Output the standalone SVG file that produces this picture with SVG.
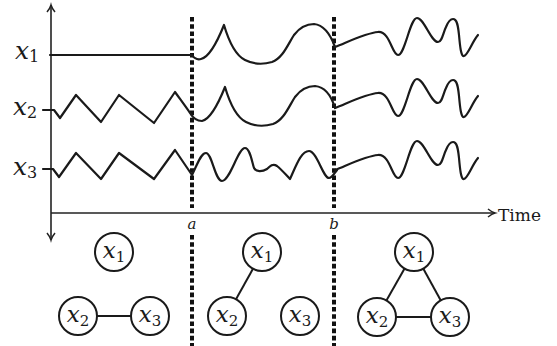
<svg xmlns="http://www.w3.org/2000/svg" width="557" height="346" viewBox="0 0 557 346">
<style>
.sig{fill:none;stroke:#1a1a1a;stroke-width:2.2;stroke-linejoin:round;stroke-linecap:round}
.ax{fill:none;stroke:#222;stroke-width:1.6}
.sep{fill:none;stroke:#111;stroke-width:4;stroke-dasharray:4.6 2.6}
.nd{fill:#fff;stroke:#1a1a1a;stroke-width:2}
.ed{stroke:#1a1a1a;stroke-width:2}
text{font-family:'DejaVu Serif','Liberation Serif',serif;fill:#1a1a1a}
.mx{font-style:italic;font-size:25px}
.sub{font-style:normal;font-size:16px}
.nx{font-style:italic;font-size:23px}
.nsub{font-style:normal;font-size:15px}
.ab{font-style:italic;font-size:15px}
.tm{font-size:17px}
</style>
<defs>
<marker id="arr" markerUnits="userSpaceOnUse" markerWidth="12" markerHeight="12" refX="9" refY="5" orient="auto-start-reverse" viewBox="0 0 12 10">
<path d="M2,1 Q6,4.2 9,5 Q6,5.8 2,9" fill="none" stroke="#222" stroke-width="1.5"/>
</marker>
</defs>

<g id="axes">
<line class="ax" x1="51" y1="240" x2="51" y2="5" marker-start="url(#arr)" marker-end="url(#arr)"/>
<line class="ax" x1="51" y1="213" x2="495" y2="213" marker-end="url(#arr)"/>
<text class="tm" x="498" y="221">Time</text>
</g>

<g id="separators">
<line class="sep" x1="192" y1="17" x2="192" y2="208"/>
<line class="sep" x1="192" y1="235" x2="192" y2="346"/>
<line class="sep" x1="334" y1="17" x2="334" y2="208"/>
<line class="sep" x1="334" y1="235" x2="334" y2="346"/>
<text class="ab" x="192" y="229" text-anchor="middle">a</text>
<text class="ab" x="334" y="229" text-anchor="middle">b</text>
</g>

<g id="signal-labels">
<text class="mx" x="15" y="59">x<tspan class="sub" dy="3">1</tspan></text>
<text class="mx" x="13" y="115">x<tspan class="sub" dy="3">2</tspan></text>
<text class="mx" x="13" y="175">x<tspan class="sub" dy="3">3</tspan></text>
</g>

<g id="signals">
<path id="s1" class="sig" d="M50,55 L192,55 C194,58 197,60 201,59 C210,57 218,40 224,25 C229,42 235,55 245,60 C253,64 262,65 272,62 C283,58 288,44 294,35 C300,27 306,24 314,24 C325,25 331,36 335,47"/>
<path id="s2" class="sig" d="M43,110 L54,110 L60,118 L76,95 L101,122 L119,95 L154,123 L175,92 C180,99 186,107 190,113 C193,118 197,121 202,121 C211,119 219,102 225,87 C230,104 236,117 246,122 C254,126 263,127 273,124 C284,120 289,106 295,97 C301,89 307,86 315,86 C326,87 332,98 335,108"/>
<path id="s3" class="sig" d="M43,169 L53,169 L59,177 L76,153 L101,179 L119,153 L154,179 L175,150 L192,175 C198,163 201,153 206,153 C212,153 215,181 222,181 C230,181 238,148 245,148 C250,148 252,162 254,168 C256,172 262,172 267,169 C270,166 273,163 277,166 C282,170 286,175 290,179 C296,166 301,151 309,151 C317,151 323,178 329,178 C332,178 334,174 337,170"/>
<path id="r1" class="sig" d="M335,47 C350,41 366,33 378,32 C390,31 392,55 398,55 C405,55 410,18 417,18 C424,18 431,42 438,42 C442,42 443,33 446,27 C448,22 450,19 453,19 C457,19 458,25 459,35 C460,46 461,57 464,56 C468,55 472,42 478,35"/>
<use href="#r1" transform="translate(0,61)"/>
<use href="#r1" transform="translate(0,123)"/>
</g>

<g id="connectors">
<line class="ed" x1="97" y1="316" x2="131" y2="316"/>
<line class="ed" x1="253" y1="268.7" x2="236" y2="299.3"/>
<line class="ed" x1="404.6" y1="268.5" x2="386.4" y2="300.5"/>
<line class="ed" x1="423.2" y1="268.6" x2="440.8" y2="300.4"/>
<line class="ed" x1="396" y1="317" x2="431" y2="317"/>
</g>

<g id="n1a"><circle class="nd" cx="114" cy="252" r="19"/><text class="nx" x="114" y="258" text-anchor="middle">x<tspan class="nsub" dy="4">1</tspan></text></g>
<g id="n2a"><circle class="nd" cx="78" cy="316" r="19"/><text class="nx" x="78" y="322" text-anchor="middle">x<tspan class="nsub" dy="4">2</tspan></text></g>
<g id="n3a"><circle class="nd" cx="150" cy="316" r="19"/><text class="nx" x="150" y="322" text-anchor="middle">x<tspan class="nsub" dy="4">3</tspan></text></g>

<g id="n1b"><circle class="nd" cx="262" cy="252" r="19"/><text class="nx" x="262" y="258" text-anchor="middle">x<tspan class="nsub" dy="4">1</tspan></text></g>
<g id="n2b"><circle class="nd" cx="227" cy="316" r="19"/><text class="nx" x="227" y="322" text-anchor="middle">x<tspan class="nsub" dy="4">2</tspan></text></g>
<g id="n3b"><circle class="nd" cx="300" cy="316" r="19"/><text class="nx" x="300" y="322" text-anchor="middle">x<tspan class="nsub" dy="4">3</tspan></text></g>

<g id="n1c"><circle class="nd" cx="414" cy="252" r="19"/><text class="nx" x="414" y="258" text-anchor="middle">x<tspan class="nsub" dy="4">1</tspan></text></g>
<g id="n2c"><circle class="nd" cx="377" cy="317" r="19"/><text class="nx" x="377" y="323" text-anchor="middle">x<tspan class="nsub" dy="4">2</tspan></text></g>
<g id="n3c"><circle class="nd" cx="450" cy="317" r="19"/><text class="nx" x="450" y="323" text-anchor="middle">x<tspan class="nsub" dy="4">3</tspan></text></g>
</svg>
